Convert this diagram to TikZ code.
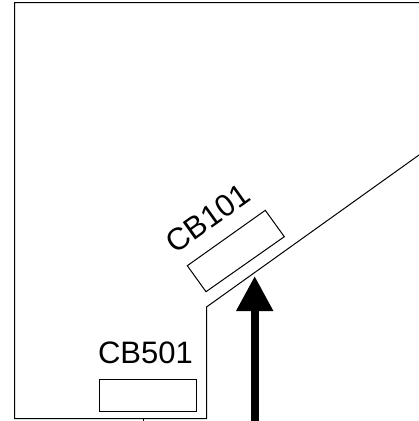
\documentclass[tikz,border=0pt]{standalone}
\usepackage{fontspec}
\setmainfont{Liberation Sans}
\usetikzlibrary{arrows.meta}
\tikzset{
  outline/.style={line width=1pt,black},
  bigarrow/.style={line width=8pt,-{Triangle[length=35pt,width=35pt]}},
  boardlabel/.style={font=\fontsize{31}{31}\selectfont,inner sep=0pt}
}
\begin{document}
\begin{tikzpicture}[x=1pt,y=-1pt]
	\useasboundingbox (0,0) rectangle (419,421);
	\draw[outline] (419,2.5)--(14.5,2.5)--(14.5,418.5)--(206.5,418.5)--(206.5,307)--(419,155);
	\draw[outline] (143,418.5)--(143,421);
	% CB101
	\draw[outline] (187.3,265.7)--(265.3,210.3)--(284.3,236.7)--(206,291.7)--cycle;
	\node[boardlabel,rotate=35.4] (cb101) at (208,218) {CB101};
	% CB501
	\draw[outline] (99.5,379) rectangle (196,411.3);
	\node[boardlabel] (cb501) at (145.5,353) {CB501};
	\coordinate (arrowstart) at (254.7,421);
	\coordinate (arrowtip) at (254.7,276);
	\draw[bigarrow] (arrowstart)--(arrowtip);
\end{tikzpicture}
\end{document}
